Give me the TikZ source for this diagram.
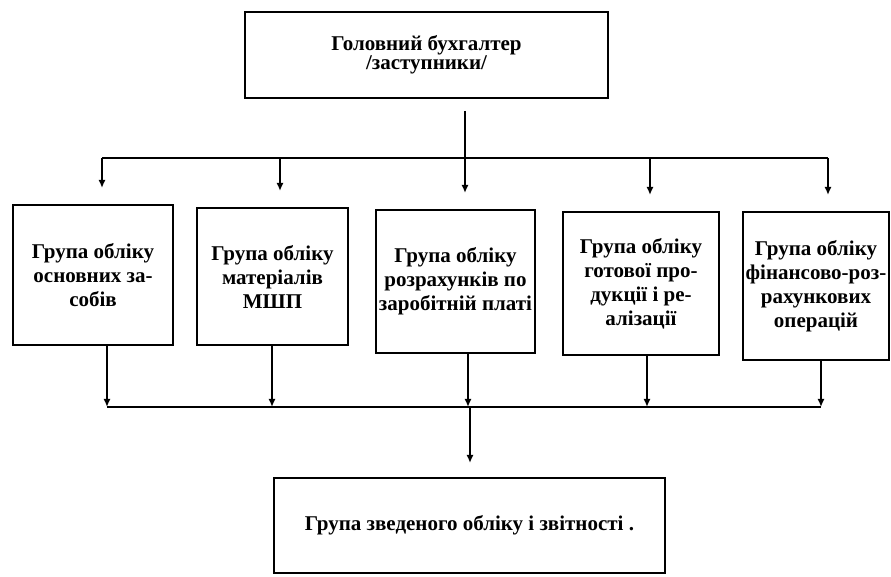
\documentclass[tikz,border=0pt]{standalone}
\usepackage{fontspec}
\setmainfont{Liberation Serif}
\usetikzlibrary{arrows.meta}

\begin{document}
\begin{tikzpicture}[x=0.5pt, y=-0.5pt,
	grp/.style={draw, line width=1pt, align=center, inner sep=1pt, font=\bfseries\fontsize{10.5}{12}\selectfont},
	bus/.style={line width=1pt},
	arr/.style={line width=1pt, -{Latex[length=4pt, width=3.5pt]}}]
	\useasboundingbox (0, 0) rectangle (891, 577);
	\node[grp, minimum width=181.5pt, minimum height=43pt, font=\bfseries\fontsize{10.5}{9.5}\selectfont] (0) at (426.5, 55) {Головний бухгалтер\\/заступники/};
	\node[grp, minimum width=80pt, minimum height=70pt] (1) at (93, 275) {Група обліку\\основних за-\\собів};
	\node[grp, minimum width=75.5pt, minimum height=68.5pt] (2) at (272.5, 276.5) {Група обліку\\матеріалів\\МШП};
	\node[grp, minimum width=79.5pt, minimum height=71.5pt] (3) at (455.5, 281.5) {Група обліку\\розрахунків по\\заробітній платі};
	\node[grp, minimum width=78pt, minimum height=71.5pt] (4) at (641, 283.5) {Група обліку\\готової про-\\дукції і ре-\\алізації};
	\node[grp, minimum width=73pt, minimum height=74pt] (5) at (816, 286) {Група обліку\\фінансово-роз-\\рахункових\\операцій};
	\node[grp, minimum width=195.5pt, minimum height=47.5pt] (6) at (469.5, 525.5) {Група зведеного обліку і звітності .};
	\coordinate (t0) at (465, 158);
	\coordinate (a1) at (102, 158);
	\coordinate (a2) at (280, 158);
	\coordinate (a3) at (465, 158);
	\coordinate (a4) at (650, 158);
	\coordinate (a5) at (828, 158);
	\coordinate (b1) at (107, 407);
	\coordinate (b2) at (272, 407);
	\coordinate (b3) at (468, 407);
	\coordinate (b4) at (647, 407);
	\coordinate (b5) at (821, 407);
	\coordinate (b0) at (470, 407);
	\draw[bus, shorten <=6pt] (0.south -| t0) to (t0);
	\draw[bus] (a1) to (a5);
	\draw[arr, shorten >=8pt] (a1) to (1.north -| a1);
	\draw[arr, shorten >=8pt] (a2) to (2.north -| a2);
	\draw[arr, shorten >=8pt] (a3) to (3.north -| a3);
	\draw[arr, shorten >=8pt] (a4) to (4.north -| a4);
	\draw[arr, shorten >=8pt] (a5) to (5.north -| a5);
	\draw[arr] (1.south -| b1) to (b1);
	\draw[arr] (2.south -| b2) to (b2);
	\draw[arr] (3.south -| b3) to (b3);
	\draw[arr] (4.south -| b4) to (b4);
	\draw[arr] (5.south -| b5) to (b5);
	\draw[bus] (b1) to (b5);
	\draw[arr, shorten >=7pt] (b0) to (6.north -| b0);
\end{tikzpicture}
\end{document}
